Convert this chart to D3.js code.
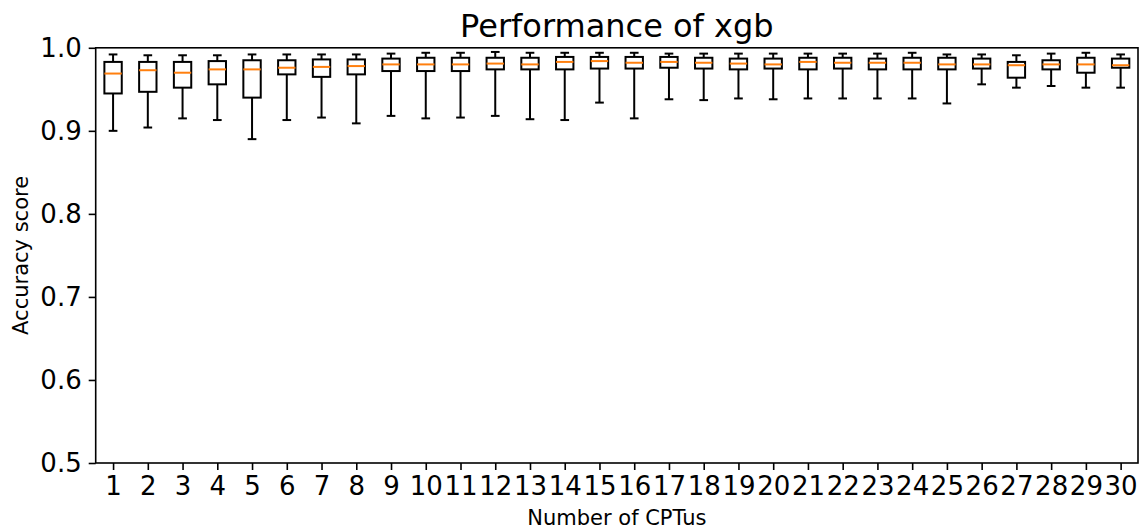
<!DOCTYPE html>
<html>
<head>
<meta charset="utf-8">
<script src="https://cdn.jsdelivr.net/npm/d3@7/dist/d3.min.js"></script>
<style>
  html, body { margin: 0; padding: 0; background: #fff; }
  svg { display: block; font-family: "DejaVu Sans", sans-serif; }
</style>
</head>
<body>
<svg id="chart" width="1141" height="531"></svg>
<script>
// Number of CPTus used (one box per count)
const categories = d3.range(1, 31).map(String);

// Box statistics of accuracy score per count
const whiskerLow = [0.900, 0.904, 0.915, 0.913, 0.890, 0.913, 0.916, 0.909, 0.918, 0.915,
                    0.916, 0.918, 0.914, 0.913, 0.934, 0.915, 0.938, 0.937, 0.939, 0.938,
                    0.939, 0.939, 0.939, 0.939, 0.933, 0.956, 0.952, 0.954, 0.952, 0.952];
const q1         = [0.945, 0.947, 0.952, 0.956, 0.940, 0.968, 0.965, 0.968, 0.972, 0.972,
                    0.972, 0.974, 0.974, 0.974, 0.975, 0.975, 0.976, 0.975, 0.974, 0.975,
                    0.974, 0.975, 0.974, 0.974, 0.974, 0.975, 0.964, 0.974, 0.970, 0.976];
const medians    = [0.969, 0.973, 0.970, 0.974, 0.974, 0.976, 0.977, 0.978, 0.980, 0.980,
                    0.980, 0.981, 0.980, 0.983, 0.984, 0.982, 0.983, 0.982, 0.981, 0.980,
                    0.983, 0.982, 0.982, 0.982, 0.980, 0.980, 0.979, 0.980, 0.980, 0.979];
const q3         = [0.983, 0.983, 0.983, 0.984, 0.985, 0.985, 0.986, 0.986, 0.987, 0.988,
                    0.988, 0.988, 0.988, 0.989, 0.989, 0.989, 0.989, 0.988, 0.987, 0.987,
                    0.988, 0.988, 0.987, 0.988, 0.988, 0.987, 0.983, 0.985, 0.988, 0.987];
const whiskerHigh= [0.992, 0.991, 0.991, 0.991, 0.992, 0.992, 0.992, 0.992, 0.993, 0.994,
                    0.994, 0.995, 0.994, 0.994, 0.994, 0.994, 0.993, 0.993, 0.993, 0.993,
                    0.993, 0.993, 0.993, 0.994, 0.992, 0.992, 0.991, 0.993, 0.994, 0.992];

const yTicks = [0.5, 0.6, 0.7, 0.8, 0.9, 1.0];

const svg = d3.select("#chart");
const plotLeft = 95.7, plotRight = 1138, plotTop = 47.8, plotBottom = 463;

const x = d3.scaleLinear().domain([0.5, categories.length + 0.5]).range([plotLeft, plotRight]);
const y = d3.scaleLinear().domain([0.5, 1.0]).range([plotBottom, plotTop]);

const boxW = x(1.25) - x(0.75);   // box spans half of a category slot
const capW = boxW / 2;

const data = categories.map((c, i) => ({
  pos: i + 1, lo: whiskerLow[i], q1: q1[i], med: medians[i], q3: q3[i], hi: whiskerHigh[i]
}));

const g = svg.append("g");
const boxes = g.selectAll("g.box").data(data).join("g").attr("class", "box");

// whiskers
boxes.append("line")
  .attr("x1", d => x(d.pos)).attr("x2", d => x(d.pos))
  .attr("y1", d => y(d.lo)).attr("y2", d => y(d.q1))
  .attr("stroke", "#000").attr("stroke-width", 2);
boxes.append("line")
  .attr("x1", d => x(d.pos)).attr("x2", d => x(d.pos))
  .attr("y1", d => y(d.q3)).attr("y2", d => y(d.hi))
  .attr("stroke", "#000").attr("stroke-width", 2);
// caps
boxes.append("line")
  .attr("x1", d => x(d.pos) - capW / 2).attr("x2", d => x(d.pos) + capW / 2)
  .attr("y1", d => y(d.lo)).attr("y2", d => y(d.lo))
  .attr("stroke", "#000").attr("stroke-width", 2);
boxes.append("line")
  .attr("x1", d => x(d.pos) - capW / 2).attr("x2", d => x(d.pos) + capW / 2)
  .attr("y1", d => y(d.hi)).attr("y2", d => y(d.hi))
  .attr("stroke", "#000").attr("stroke-width", 2);
// box
boxes.append("rect")
  .attr("x", d => x(d.pos) - boxW / 2).attr("width", boxW)
  .attr("y", d => y(d.q3)).attr("height", d => y(d.q1) - y(d.q3))
  .attr("fill", "none").attr("stroke", "#000").attr("stroke-width", 2);
// median
boxes.append("line")
  .attr("x1", d => x(d.pos) - boxW / 2).attr("x2", d => x(d.pos) + boxW / 2)
  .attr("y1", d => y(d.med)).attr("y2", d => y(d.med))
  .attr("stroke", "#ff7f0e").attr("stroke-width", 2);

// axes
const xAxis = d3.axisBottom(x)
  .tickValues(data.map(d => d.pos))
  .tickFormat((d, i) => categories[i])
  .tickSize(7).tickPadding(7);
const yAxis = d3.axisLeft(y)
  .tickValues(yTicks)
  .tickFormat(d3.format(".1f"))
  .tickSize(7).tickPadding(7);

const gx = svg.append("g").attr("transform", `translate(0,${plotBottom})`).call(xAxis);
const gy = svg.append("g").attr("transform", `translate(${plotLeft},0)`).call(yAxis);
[gx, gy].forEach(a => {
  a.select(".domain").remove();
  a.selectAll(".tick line").attr("stroke", "#000").attr("stroke-width", 1.6);
  a.selectAll(".tick text").attr("fill", "#000")
    .style("font-size", "26px").style("font-family", "DejaVu Sans, sans-serif");
});

// frame
svg.append("rect")
  .attr("x", plotLeft).attr("y", plotTop)
  .attr("width", plotRight - plotLeft).attr("height", plotBottom - plotTop)
  .attr("fill", "none").attr("stroke", "#000").attr("stroke-width", 1.6);

// labels
svg.append("text")
  .attr("x", (plotLeft + plotRight) / 2).attr("y", 36.5)
  .attr("text-anchor", "middle").style("font-size", "32px")
  .text("Performance of xgb");
svg.append("text")
  .attr("x", (plotLeft + plotRight) / 2).attr("y", 525)
  .attr("text-anchor", "middle").style("font-size", "21px")
  .text("Number of CPTus");
svg.append("text")
  .attr("transform", `translate(28,${(plotTop + plotBottom) / 2}) rotate(-90)`)
  .attr("text-anchor", "middle").style("font-size", "21px")
  .text("Accuracy score");
</script>
</body>
</html>
